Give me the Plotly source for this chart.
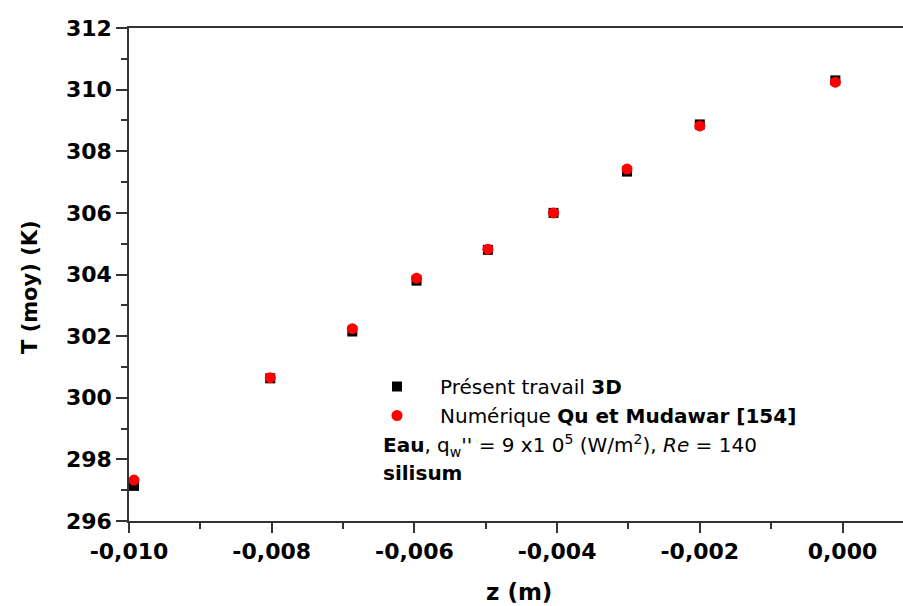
import plotly.graph_objects as go

z = [-0.00993, -0.00802, -0.00687, -0.00597, -0.00497, -0.00405, -0.00302, -0.00200, -0.00010]
t_present = [297.14, 300.63, 302.15, 303.80, 304.80, 306.00, 307.34, 308.87, 310.30]
t_qu = [297.33, 300.65, 302.24, 303.88, 304.82, 306.00, 307.42, 308.82, 310.24]

x_ticks = [-0.010, -0.008, -0.006, -0.004, -0.002, 0.000]
x_tick_labels = ["-0,010", "-0,008", "-0,006", "-0,004", "-0,002", "0,000"]
y_ticks = [296, 298, 300, 302, 304, 306, 308, 310, 312]

FONT = "DejaVu Sans"
AX = "#333333"

fig = go.Figure()
fig.add_trace(go.Scatter(
    x=z, y=t_present, mode="markers", name="Présent travail <b>3D</b>",
    marker=dict(symbol="square", size=10, color="black"), legendgroup="a"))
fig.add_trace(go.Scatter(
    x=z, y=t_qu, mode="markers", name="Numérique <b>Qu et Mudawar [154]</b>",
    marker=dict(symbol="circle", size=11, color="#ff0000"), legendgroup="b"))

L, R, T, B = 129, 0, 28, 85
W, H = 903, 606
pw = W - L - R
ph = H - T - B

def px(xp):
    return (xp - L) / pw

def py(yp):
    return (H - B - yp) / ph

fig.update_layout(
    width=W, height=H, margin=dict(l=L, r=R, t=T, b=B),
    paper_bgcolor="white", plot_bgcolor="white",
    separators=",.",
    showlegend=True,
    legend=dict(x=px(354), y=py(367), xanchor="left", yanchor="top",
                font=dict(family=FONT, size=20, color="black"),
                itemwidth=76, bgcolor="rgba(0,0,0,0)", tracegroupgap=0),
    xaxis=dict(range=[-0.010, 0.000848], tickvals=x_ticks, ticktext=x_tick_labels,
               showline=True, linecolor=AX, linewidth=1.5, mirror=True,
               ticks="outside", ticklen=10, tickwidth=1.5, tickcolor=AX,
               showgrid=False, zeroline=False,
               tickfont=dict(family=FONT, size=22, color="black", weight="bold"),
               minor=dict(dtick=0.001, tick0=0, ticks="outside", ticklen=6,
                          tickwidth=1.5, tickcolor=AX, showgrid=False)),
    yaxis=dict(range=[296, 312], tickvals=y_ticks,
               showline=True, linecolor=AX, linewidth=1.5,
               ticks="outside", ticklen=11, tickwidth=1.5, tickcolor=AX,
               showgrid=False, zeroline=False,
               tickfont=dict(family=FONT, size=22, color="black", weight="bold"),
               minor=dict(dtick=1, tick0=296, ticks="outside", ticklen=6,
                          tickwidth=1.5, tickcolor=AX, showgrid=False)),
    annotations=[
        dict(text="<b>Eau</b>, q<sub>w</sub>'' = 9 x1 0<sup>5</sup> (W/m<sup>2</sup>), <i>Re</i> = 140",
             x=px(381), y=py(445), xref="paper", yref="paper",
             xanchor="left", yanchor="middle", showarrow=False,
             font=dict(family=FONT, size=20, color="black")),
        dict(text="<b>silisum</b>",
             x=px(381), y=py(473), xref="paper", yref="paper",
             xanchor="left", yanchor="middle", showarrow=False,
             font=dict(family=FONT, size=20, color="black")),
        dict(text="<b>z (m)</b>",
             x=px(519), y=py(592), xref="paper", yref="paper",
             xanchor="center", yanchor="middle", showarrow=False,
             font=dict(family=FONT, size=23, color="black")),
        dict(text="<b>T (moy) (K)</b>", textangle=-90,
             x=px(30), y=py(287), xref="paper", yref="paper",
             xanchor="center", yanchor="middle", showarrow=False,
             font=dict(family=FONT, size=21, color="black")),
    ],
)

fig.write_html("out.html")
